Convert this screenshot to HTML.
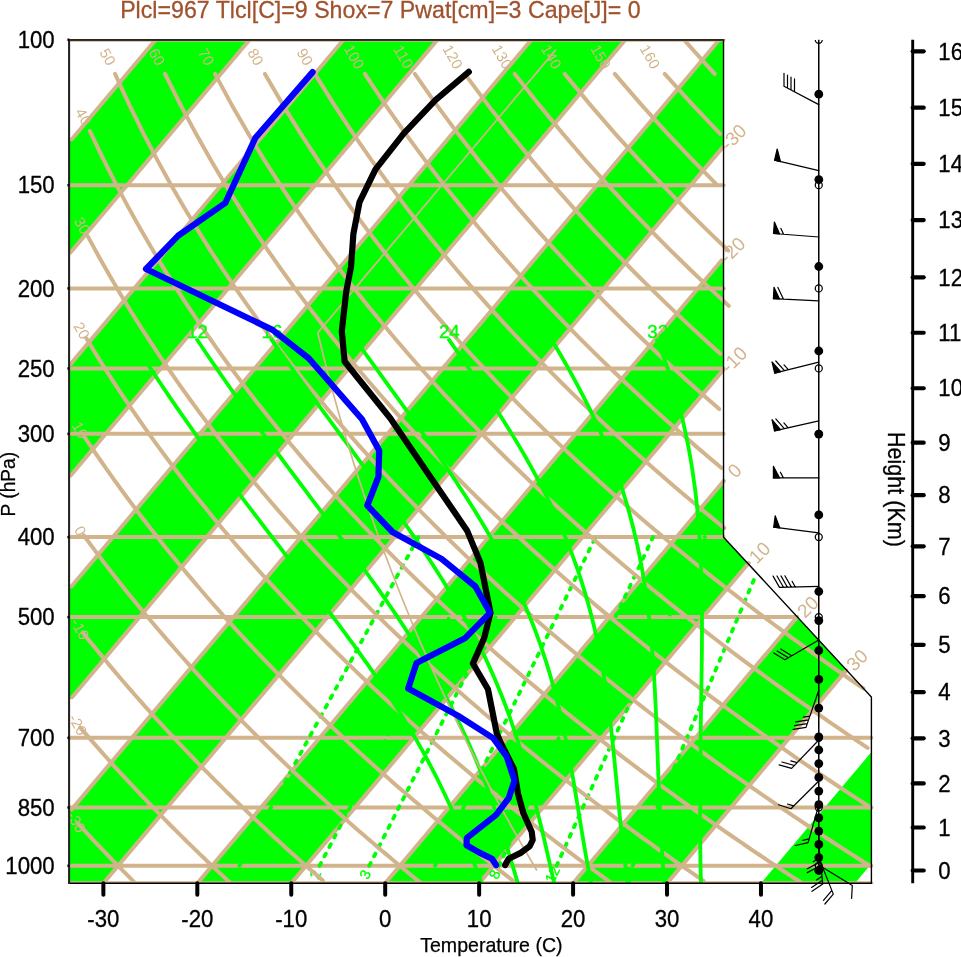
<!DOCTYPE html>
<html><head><meta charset="utf-8"><title>Skew-T</title><style>html,body{margin:0;padding:0;background:#fff}svg{display:block}</style></head><body>
<svg width="961" height="957" viewBox="0 0 961 957" font-family="&quot;Liberation Sans&quot;, Arial, Helvetica, sans-serif">
<rect width="961" height="957" fill="#fff"/>
<defs><clipPath id="fr"><polygon points="69.40,883.30 69.40,39.70 723.53,39.70 723.53,537.12 871.40,697.04 871.40,883.30"/></clipPath><clipPath id="bg"><rect x="68.2" y="38.9" width="880" height="845"/></clipPath></defs>
<g clip-path="url(#fr)" fill="#00ff00">
<polygon points="-618.38,959.52 249.39,-71.65 343.33,-71.65 -524.44,959.52"/>
<polygon points="-430.49,959.52 437.28,-71.65 531.22,-71.65 -336.55,959.52"/>
<polygon points="-242.61,959.52 625.16,-71.65 719.11,-71.65 -148.66,959.52"/>
<polygon points="-54.72,959.52 813.05,-71.65 906.99,-71.65 39.22,959.52"/>
<polygon points="133.17,959.52 1000.94,-71.65 1094.88,-71.65 227.11,959.52"/>
<polygon points="321.05,959.52 1188.82,-71.65 1282.77,-71.65 415.00,959.52"/>
<polygon points="508.94,959.52 1376.71,-71.65 1470.66,-71.65 602.88,959.52"/>
<polygon points="696.83,959.52 1564.60,-71.65 1658.54,-71.65 790.77,959.52"/>
</g>
<g clip-path="url(#bg)">
<g stroke="#d2b48c" stroke-width="4.00" fill="none" stroke-linecap="round">
<line x1="71.85" y1="139.32" x2="155.67" y2="39.72"/>
<line x1="70.48" y1="252.58" x2="249.61" y2="39.72"/>
<line x1="70.56" y1="364.12" x2="343.56" y2="39.72"/>
<line x1="70.70" y1="475.58" x2="437.50" y2="39.72"/>
<line x1="71.37" y1="586.43" x2="531.44" y2="39.72"/>
<line x1="72.11" y1="697.18" x2="625.39" y2="39.72"/>
<line x1="71.45" y1="809.59" x2="719.33" y2="39.72"/>
<line x1="103.37" y1="883.30" x2="722.67" y2="147.38"/>
<line x1="197.31" y1="883.30" x2="721.49" y2="260.42"/>
<line x1="291.25" y1="883.30" x2="723.32" y2="369.88"/>
<line x1="385.20" y1="883.30" x2="723.86" y2="480.87"/>
<line x1="479.14" y1="883.30" x2="748.68" y2="563.01"/>
<line x1="573.08" y1="883.30" x2="797.08" y2="617.12"/>
<line x1="667.03" y1="883.30" x2="846.22" y2="670.37"/>
</g>
<g fill="#d2b48c" font-size="19" text-anchor="middle">
<text transform="translate(733.54,137.07) rotate(-45)" y="6.5">-30</text>
<text transform="translate(732.36,250.11) rotate(-45)" y="6.5">-20</text>
<text transform="translate(734.19,359.57) rotate(-45)" y="6.5">-10</text>
<text transform="translate(734.73,470.55) rotate(-45)" y="6.5">0</text>
<text transform="translate(759.55,552.70) rotate(-45)" y="6.5">10</text>
<text transform="translate(807.96,606.81) rotate(-45)" y="6.5">20</text>
<text transform="translate(857.09,660.06) rotate(-45)" y="6.5">30</text>
</g>
<g stroke="#d2b48c" stroke-width="4.00" fill="none" stroke-linecap="round">
<line x1="69.40" y1="883.30" x2="871.40" y2="883.30"/>
<line x1="69.40" y1="865.80" x2="871.40" y2="865.80"/>
<line x1="69.40" y1="807.49" x2="871.40" y2="807.49"/>
<line x1="69.40" y1="737.84" x2="871.40" y2="737.84"/>
<line x1="69.40" y1="617.12" x2="797.11" y2="617.12"/>
<line x1="69.40" y1="537.07" x2="723.53" y2="537.07"/>
<line x1="69.40" y1="433.86" x2="723.53" y2="433.86"/>
<line x1="69.40" y1="368.45" x2="723.53" y2="368.45"/>
<line x1="69.40" y1="288.39" x2="723.53" y2="288.39"/>
<line x1="69.40" y1="185.18" x2="723.53" y2="185.18"/>
<line x1="69.40" y1="39.72" x2="723.53" y2="39.72"/>
</g>
<g stroke="#00ff00" stroke-width="3.8" fill="none" stroke-dasharray="3.1,7.5" stroke-linecap="round">
<line x1="632.70" y1="865.80" x2="755.42" y2="576.12"/>
<line x1="556.57" y1="865.80" x2="704.77" y2="537.07"/>
<line x1="498.88" y1="865.80" x2="653.02" y2="537.07"/>
<line x1="435.04" y1="865.80" x2="595.59" y2="537.07"/>
<line x1="369.24" y1="865.80" x2="536.20" y2="537.07"/>
<line x1="319.53" y1="865.80" x2="491.20" y2="537.07"/>
<line x1="239.36" y1="865.80" x2="418.37" y2="537.07"/>
</g>
<g fill="#00ff00" stroke="#00ff00" stroke-width="0.3" font-size="14.5" text-anchor="middle">
<text transform="translate(629.00,874.80) rotate(-65)" y="4.5">20</text>
<text transform="translate(552.87,874.80) rotate(-65)" y="4.5">12</text>
<text transform="translate(495.18,874.80) rotate(-65)" y="4.5">8</text>
<text transform="translate(431.34,874.80) rotate(-65)" y="4.5">5</text>
<text transform="translate(365.54,874.80) rotate(-65)" y="4.5">3</text>
<text transform="translate(315.83,874.80) rotate(-65)" y="4.5">2</text>
<text transform="translate(235.66,874.80) rotate(-65)" y="4.5">1</text>
</g>
<g stroke="#d2b48c" stroke-width="4.00" fill="none" stroke-linecap="round" stroke-linejoin="round">
<polyline points="78.40,823.99 82.10,828.00 85.78,831.96 89.44,835.88 93.08,839.76 96.71,843.60 100.32,847.39 103.91,851.15 107.48,854.87 111.03,858.55 114.57,862.19 118.10,865.80 121.60,869.37 125.09,872.90 128.56,876.40 132.02,879.87 135.46,883.30"/>
<polyline points="80.11,727.44 84.62,732.67 89.09,737.84 93.54,742.92 97.96,747.94 102.35,752.89 106.72,757.77 111.06,762.59 115.37,767.34 119.66,772.03 123.92,776.66 128.16,781.23 132.38,785.74 136.57,790.20 140.73,794.60 144.88,798.95 149.00,803.24 153.10,807.49 157.17,811.69 161.23,815.83 165.26,819.93 169.27,823.99 173.26,828.00 177.22,831.96 181.17,835.88 185.10,839.76 189.01,843.60 192.89,847.39 196.76,851.15 200.61,854.87 204.44,858.55 208.25,862.19 212.04,865.80 215.81,869.37 219.57,872.90 223.31,876.40 227.02,879.87 230.73,883.30"/>
<polyline points="82.82,632.57 88.26,639.38 93.66,646.06 99.02,652.62 104.34,659.06 109.61,665.39 114.85,671.60 120.05,677.72 125.21,683.73 130.34,689.64 135.42,695.45 140.48,701.17 145.49,706.81 150.47,712.35 155.42,717.81 160.34,723.19 165.22,728.49 170.07,733.71 174.89,738.86 179.67,743.93 184.43,748.94 189.15,753.87 193.85,758.74 198.51,763.54 203.15,768.28 207.76,772.96 212.34,777.58 216.89,782.14 221.42,786.64 225.91,791.08 230.39,795.47 234.83,799.81 239.25,804.10 243.65,808.33 248.02,812.52 252.37,816.66 256.69,820.75 260.99,824.79 265.26,828.79 269.52,832.75 273.75,836.66 277.95,840.53 282.14,844.36 286.30,848.15 290.44,851.90 294.56,855.61 298.66,859.28 302.74,862.91 306.79,866.51 310.83,870.08 314.85,873.60 318.84,877.10 322.82,880.56"/>
<polyline points="83.68,535.27 90.23,544.17 96.72,552.86 103.15,561.34 109.52,569.63 115.83,577.72 122.08,585.64 128.28,593.39 134.42,600.98 140.51,608.41 146.55,615.68 152.53,622.82 158.47,629.81 164.35,636.67 170.19,643.40 175.98,650.01 181.72,656.50 187.42,662.87 193.07,669.13 198.68,675.28 204.25,681.33 209.77,687.28 215.26,693.14 220.70,698.90 226.10,704.56 231.47,710.14 236.79,715.64 242.08,721.05 247.33,726.38 252.55,731.63 257.73,736.81 262.87,741.91 267.98,746.94 273.05,751.91 278.10,756.80 283.11,761.63 288.08,766.39 293.03,771.10 297.94,775.74 302.83,780.32 307.68,784.84 312.51,789.31 317.30,793.72 322.07,798.08 326.80,802.39 331.51,806.65 336.19,810.85 340.85,815.01 345.48,819.12 350.08,823.18 354.65,827.20 359.20,831.17 363.73,835.10 368.23,838.99 372.70,842.83 377.16,846.64 381.58,850.40 385.99,854.13 390.37,857.82 394.73,861.46 399.06,865.08 403.38,868.65 407.67,872.20 411.94,875.70 416.18,879.18 420.41,882.62"/>
<polyline points="84.06,436.24 91.90,447.93 99.66,459.25 107.32,470.22 114.90,480.87 122.40,491.21 129.82,501.26 137.15,511.03 144.41,520.55 151.59,529.82 158.70,538.86 165.74,547.67 172.70,556.28 179.60,564.68 186.43,572.89 193.19,580.91 199.90,588.76 206.53,596.45 213.11,603.97 219.63,611.34 226.08,618.55 232.49,625.63 238.83,632.57 245.12,639.38 251.36,646.06 257.54,652.62 263.68,659.06 269.76,665.39 275.79,671.60 281.78,677.72 287.72,683.73 293.61,689.64 299.45,695.45 305.26,701.17 311.01,706.81 316.73,712.35 322.40,717.81 328.03,723.19 333.63,728.49 339.18,733.71 344.69,738.86 350.16,743.93 355.60,748.94 361.00,753.87 366.36,758.74 371.69,763.54 376.98,768.28 382.24,772.96 387.46,777.58 392.66,782.14 397.81,786.64 402.94,791.08 408.03,795.47 413.09,799.81 418.12,804.10 423.13,808.33 428.10,812.52 433.04,816.66 437.95,820.75 442.83,824.79 447.69,828.79 452.52,832.75 457.32,836.66 462.09,840.53 466.84,844.36 471.56,848.15 476.26,851.90 480.93,855.61 485.57,859.28 490.19,862.91 494.79,866.51 499.36,870.08 503.91,873.60 508.43,877.10 512.93,880.56"/>
<polyline points="86.46,338.53 95.76,353.80 104.94,368.45 113.99,382.52 122.93,396.06 131.75,409.11 140.46,421.70 149.05,433.86 157.54,445.62 165.93,457.01 174.21,468.05 182.40,478.76 190.48,489.16 198.48,499.27 206.38,509.10 214.20,518.66 221.93,527.98 229.57,537.07 237.13,545.93 244.62,554.57 252.02,563.01 259.35,571.26 266.61,579.32 273.79,587.21 280.91,594.92 287.95,602.48 294.93,609.87 301.85,617.12 308.70,624.23 315.49,631.19 322.21,638.03 328.88,644.73 335.49,651.32 342.04,657.78 348.54,664.13 354.98,670.37 361.37,676.50 367.71,682.53 373.99,688.46 380.23,694.30 386.41,700.04 392.55,705.69 398.64,711.25 404.69,716.73 410.69,722.12 416.64,727.44 422.55,732.67 428.42,737.84 434.25,742.92 440.04,747.94 445.78,752.89 451.49,757.77 457.15,762.59 462.78,767.34 468.37,772.03 473.92,776.66 479.44,781.23 484.92,785.74 490.36,790.20 495.78,794.60 501.15,798.95 506.49,803.24 511.80,807.49 517.08,811.69 522.33,815.83 527.54,819.93 532.72,823.99 537.88,828.00 543.00,831.96 548.09,835.88 553.15,839.76 558.19,843.60 563.19,847.39 568.17,851.15 573.12,854.87 578.05,858.55 582.94,862.19 587.81,865.80 592.66,869.37 597.48,872.90 602.27,876.40 607.04,879.87 611.78,883.30"/>
<polyline points="87.82,236.36 98.79,256.52 109.60,275.61 120.24,293.73 130.71,310.99 141.03,327.45 151.20,343.18 161.21,358.26 171.08,372.73 180.80,386.63 190.39,400.02 199.85,412.93 209.18,425.39 218.38,437.43 227.46,449.08 236.42,460.36 245.27,471.30 254.01,481.91 262.64,492.22 271.17,502.24 279.59,511.99 287.92,521.49 296.15,530.73 304.29,539.75 312.34,548.54 320.30,557.12 328.17,565.51 335.97,573.70 343.68,581.71 351.31,589.54 358.87,597.21 366.35,604.71 373.75,612.06 381.09,619.27 388.36,626.33 395.56,633.26 402.69,640.05 409.76,646.72 416.76,653.27 423.71,659.70 430.59,666.01 437.41,672.22 444.18,678.32 450.89,684.32 457.54,690.22 464.14,696.03 470.69,701.74 477.18,707.36 483.62,712.90 490.02,718.35 496.36,723.72 502.66,729.01 508.91,734.23 515.11,739.37 521.27,744.44 527.38,749.43 533.45,754.36 539.48,759.22 545.47,764.02 551.41,768.75 557.31,773.42 563.18,778.04 569.00,782.59 574.79,787.08 580.53,791.52 586.24,795.91 591.92,800.24 597.56,804.52 603.16,808.75 608.73,812.94 614.26,817.07 619.76,821.16 625.22,825.20 630.66,829.19 636.06,833.14 641.43,837.05 646.77,840.92 652.07,844.74 657.35,848.53 662.60,852.27 667.81,855.98 673.00,859.64 678.16,863.28 683.29,866.87 688.40,870.43 693.47,873.95 698.52,877.44 703.55,880.90"/>
<polyline points="89.91,131.07 102.72,157.86 115.32,182.78 127.71,206.09 139.89,227.97 151.86,248.59 163.63,268.10 175.20,286.59 186.58,304.18 197.77,320.95 208.78,336.97 219.61,352.30 230.27,367.01 240.77,381.14 251.11,394.73 261.29,407.82 271.33,420.46 281.23,432.66 290.98,444.46 300.61,455.89 310.10,466.96 319.47,477.70 328.72,488.13 337.85,498.27 346.87,508.13 355.78,517.72 364.58,527.06 373.28,536.17 381.88,545.05 390.38,553.72 398.78,562.18 407.10,570.44 415.32,578.52 423.45,586.43 431.51,594.16 439.47,601.73 447.36,609.14 455.17,616.40 462.90,623.52 470.56,630.50 478.15,637.35 485.66,644.07 493.11,650.66 500.48,657.14 507.79,663.50 515.04,669.75 522.22,675.89 529.35,681.93 536.41,687.87 543.41,693.72 550.35,699.47 557.24,705.12 564.07,710.70 570.85,716.18 577.57,721.58 584.24,726.91 590.86,732.15 597.44,737.32 603.96,742.42 610.43,747.44 616.86,752.40 623.23,757.29 629.57,762.11 635.86,766.87 642.10,771.56 648.30,776.20 654.46,780.77 660.58,785.29 666.66,789.75 672.69,794.16 678.69,798.52 684.65,802.82 690.57,807.07 696.45,811.27 702.30,815.42 708.10,819.53 713.88,823.58 719.61,827.60 725.32,831.57 730.99,835.49 736.62,839.37 742.22,843.22 747.79,847.02 753.33,850.78 758.83,854.50 764.31,858.18 769.75,861.83 775.16,865.44 780.54,869.01 785.90,872.55 791.22,876.05 796.52,879.52 801.78,882.96"/>
<polyline points="115.03,73.91 129.45,105.13 143.61,133.84 157.52,160.43 171.17,185.18 184.56,208.34 197.69,230.09 210.58,250.59 223.22,269.99 235.64,288.39 247.83,305.90 259.80,322.59 271.57,338.53 283.14,353.80 294.52,368.45 305.72,382.52 316.73,396.06 327.58,409.11 338.26,421.70 348.79,433.86 359.16,445.62 369.38,457.01 379.46,468.05 389.41,478.76 399.22,489.16 408.90,499.27 418.46,509.10 427.90,518.66 437.22,527.98 446.43,537.07 455.53,545.93 464.52,554.57 473.41,563.01 482.21,571.26 490.90,579.32 499.50,587.21 508.00,594.92 516.42,602.48 524.75,609.87 533.00,617.12 541.16,624.23 549.24,631.19 557.25,638.03 565.17,644.73 573.03,651.32 580.81,657.78 588.51,664.13 596.15,670.37 603.72,676.50 611.23,682.53 618.67,688.46 626.04,694.30 633.36,700.04 640.61,705.69 647.81,711.25 654.94,716.73 662.02,722.12 669.04,727.44 676.01,732.67 682.92,737.84 689.78,742.92 696.59,747.94 703.35,752.89 710.06,757.77 716.72,762.59 723.34,767.34 729.90,772.03 736.42,776.66 742.90,781.23 749.33,785.74 755.71,790.20 762.06,794.60 768.36,798.95 774.62,803.24 780.84,807.49 787.01,811.69 793.15,815.83 799.25,819.93 805.32,823.99 811.34,828.00 817.33,831.96 823.28,835.88 829.20,839.76 835.08,843.60 840.92,847.39 846.73,851.15 852.51,854.87 858.25,858.55 863.97,862.19 869.64,865.80"/>
<polyline points="165.00,73.91 180.67,105.13 196.03,133.84 211.06,160.43 225.77,185.18 240.18,208.34 254.28,230.09 268.10,250.59 281.65,269.99 294.92,288.39 307.95,305.90 320.73,322.59 333.28,338.53 345.60,353.80 357.72,368.45 369.62,382.52 381.33,396.06 392.86,409.11 404.20,421.70 415.36,433.86 426.36,445.62 437.20,457.01 447.88,468.05 458.41,478.76 468.80,489.16 479.04,499.27 489.15,509.10 499.13,518.66 508.99,527.98 518.72,537.07 528.33,545.93 537.83,554.57 547.21,563.01 556.49,571.26 565.66,579.32 574.73,587.21 583.70,594.92 592.58,602.48 601.36,609.87 610.05,617.12 618.65,624.23 627.16,631.19 635.59,638.03 643.94,644.73 652.21,651.32 660.39,657.78 668.51,664.13 676.54,670.37 684.51,676.50 692.40,682.53 700.23,688.46 707.98,694.30 715.67,700.04 723.30,705.69 730.86,711.25 738.36,716.73 745.80,722.12 753.17,727.44 760.49,732.67 767.76,737.84 774.96,742.92 782.11,747.94 789.21,752.89 796.25,757.77 803.25,762.59 810.19,767.34 817.08,772.03 823.92,776.66 830.71,781.23 837.46,785.74 844.16,790.20 850.82,794.60 857.43,798.95 863.99,803.24 870.51,807.49"/>
<polyline points="214.97,73.91 231.90,105.13 248.44,133.84 264.60,160.43 280.38,185.18 295.80,208.34 310.88,230.09 325.63,250.59 340.07,269.99 354.21,288.39 368.07,305.90 381.65,322.59 394.98,338.53 408.06,353.80 420.91,368.45 433.53,382.52 445.93,396.06 458.13,409.11 470.13,421.70 481.94,433.86 493.57,445.62 505.02,457.01 516.30,468.05 527.41,478.76 538.37,489.16 549.18,499.27 559.84,509.10 570.37,518.66 580.75,527.98 591.00,537.07 601.13,545.93 611.13,554.57 621.01,563.01 630.77,571.26 640.42,579.32 649.97,587.21 659.40,594.92 668.73,602.48 677.96,609.87 687.10,617.12 696.14,624.23 705.08,631.19 713.94,638.03 722.70,644.73 731.38,651.32 739.98,657.78 748.50,664.13 756.94,670.37 765.29,676.50 773.58,682.53 781.79,688.46 789.92,694.30 797.99,700.04 805.98,705.69 813.91,711.25 821.78,716.73 829.57,722.12 837.31,727.44 844.98,732.67 852.59,737.84 860.14,742.92 867.63,747.94"/>
<polyline points="264.94,73.91 283.13,105.13 300.86,133.84 318.14,160.43 334.98,185.18 351.42,208.34 367.47,230.09 383.16,250.59 398.49,269.99 413.50,288.39 428.19,305.90 442.58,322.59 456.69,338.53 470.52,353.80 484.10,368.45 497.44,382.52 510.53,396.06 523.41,409.11 536.07,421.70 548.52,433.86 560.77,445.62 572.83,457.01 584.71,468.05 596.42,478.76 607.95,489.16 619.32,499.27 630.54,509.10 641.60,518.66 652.52,527.98 663.29,537.07 673.93,545.93 684.43,554.57 694.81,563.01 705.06,571.26 715.19,579.32 725.20,587.21 735.10,594.92 744.89,602.48 754.57,609.87 764.15,617.12 773.62,624.23 783.00,631.19 792.28,638.03 801.47,644.73 810.56,651.32 819.57,657.78 828.49,664.13 837.33,670.37 846.08,676.50 854.75,682.53 863.35,688.46"/>
<polyline points="314.91,73.91 334.36,105.13 353.27,133.84 371.67,160.43 389.59,185.18 407.04,208.34 424.07,230.09 440.69,250.59 456.92,269.99 472.79,288.39 488.31,305.90 503.51,322.59 518.39,338.53 532.99,353.80 547.30,368.45 561.34,382.52 575.14,396.06 588.68,409.11 602.00,421.70 615.09,433.86 627.97,445.62 640.65,457.01 653.13,468.05 665.42,478.76 677.53,489.16 689.46,499.27 701.23,509.10 712.83,518.66 724.28,527.98"/>
<polyline points="364.88,73.91 385.59,105.13 405.69,133.84 425.21,160.43 444.19,185.18 462.67,208.34 480.66,230.09 498.21,250.59 515.34,269.99 532.07,288.39 548.43,305.90 564.43,322.59 580.10,338.53 595.45,353.80 610.49,368.45 625.25,382.52 639.74,396.06 653.96,409.11 667.93,421.70 681.67,433.86 695.18,445.62 708.47,457.01 721.55,468.05"/>
<polyline points="414.84,73.91 436.82,105.13 458.10,133.84 478.75,160.43 498.80,185.18 518.29,208.34 537.26,230.09 555.74,250.59 573.77,269.99 591.36,288.39 608.55,305.90 625.36,322.59 641.80,338.53 657.91,353.80 673.69,368.45 689.16,382.52 704.34,396.06 719.24,409.11"/>
<polyline points="464.81,73.91 488.05,105.13 510.52,133.84 532.29,160.43 553.40,185.18 573.91,208.34 593.85,230.09 613.27,250.59 632.19,269.99 650.65,288.39 668.67,305.90 686.28,322.59 703.51,338.53 720.37,353.80"/>
<polyline points="514.78,73.91 539.27,105.13 562.93,133.84 585.82,160.43 608.01,185.18 629.53,208.34 650.45,230.09 670.80,250.59 690.61,269.99 709.93,288.39 728.79,305.90"/>
<polyline points="564.75,73.91 590.50,105.13 615.35,133.84 639.36,160.43 662.61,185.18 685.15,208.34 707.04,230.09 728.32,250.59"/>
<polyline points="614.72,73.91 641.73,105.13 667.76,133.84 692.90,160.43 717.22,185.18"/>
<polyline points="664.69,73.91 692.96,105.13 720.18,133.84"/>
<polyline points="683.89,39.72 714.66,73.91"/>
</g>
<g fill="#d2b48c" font-size="15" text-anchor="middle">
<text transform="translate(76.54,821.96) rotate(60)" y="5.2">-30</text>
<text transform="translate(77.85,724.78) rotate(60)" y="5.2">-20</text>
<text transform="translate(80.08,629.10) rotate(60)" y="5.2">-10</text>
<text transform="translate(80.38,530.70) rotate(60)" y="5.2">0</text>
<text transform="translate(80.09,430.20) rotate(60)" y="5.2">10</text>
<text transform="translate(81.74,330.56) rotate(60)" y="5.2">20</text>
<text transform="translate(82.26,225.68) rotate(60)" y="5.2">30</text>
<text transform="translate(83.41,116.60) rotate(60)" y="5.2">40</text>
<text transform="translate(107.70,56.82) rotate(60)" y="5.2">50</text>
<text transform="translate(157.00,56.82) rotate(60)" y="5.2">60</text>
<text transform="translate(206.30,56.82) rotate(60)" y="5.2">70</text>
<text transform="translate(255.60,56.82) rotate(60)" y="5.2">80</text>
<text transform="translate(304.89,56.82) rotate(60)" y="5.2">90</text>
<text transform="translate(354.19,56.82) rotate(60)" y="5.2">100</text>
<text transform="translate(403.49,56.82) rotate(60)" y="5.2">110</text>
<text transform="translate(452.79,56.82) rotate(60)" y="5.2">120</text>
<text transform="translate(502.09,56.82) rotate(60)" y="5.2">130</text>
<text transform="translate(551.38,56.82) rotate(60)" y="5.2">140</text>
<text transform="translate(600.68,56.82) rotate(60)" y="5.2">150</text>
<text transform="translate(649.98,56.82) rotate(60)" y="5.2">160</text>
</g>
<g stroke="#00ff00" stroke-width="3.8" fill="none" stroke-linejoin="round">
<polyline points="701.00,883.30 700.89,879.87 700.79,876.40 700.70,872.90 700.62,869.37 700.55,865.80 700.48,862.19 700.42,858.55 700.36,854.87 700.31,851.15 700.27,847.39 700.22,843.60 700.22,839.76 700.19,835.88 700.18,831.96 700.17,828.00 700.16,823.99 700.16,819.93 700.17,815.83 700.18,811.69 700.19,807.49 700.21,803.24 700.23,798.95 700.26,794.60 700.29,790.20 700.32,785.74 700.35,781.23 700.39,776.66 700.42,772.03 700.46,767.34 700.50,762.59 700.53,757.77 700.56,752.89 700.63,747.94 700.66,742.92 700.69,737.84 700.72,732.67 700.77,727.44 700.85,722.12 700.92,716.73 701.00,711.25 701.09,705.69 701.18,700.04 701.27,694.30 701.37,688.46 701.46,682.53 701.55,676.50 701.65,670.37 701.73,664.13 701.82,657.78 701.89,651.32 701.92,644.73 701.96,638.03 701.99,631.19 702.00,624.23 701.98,617.12 701.94,609.87 701.87,602.48 701.77,594.92 701.62,587.21 701.43,579.32 701.18,571.26 700.88,563.01 700.51,554.57 700.05,545.93 699.52,537.07 698.88,527.98 698.13,518.66 697.25,509.10 696.28,499.27 695.10,489.16 693.59,478.76 692.08,468.05 690.25,457.01 688.17,445.62 685.77,433.86 683.03,421.70 679.91,409.11 676.34,396.06 672.26,382.52 667.67,368.45 662.42,353.80 656.48,338.53"/>
<polyline points="664.22,883.30 663.95,879.87 663.70,876.40 663.45,872.90 663.20,869.37 662.97,865.80 662.74,862.19 662.51,858.55 662.29,854.87 662.07,851.15 661.85,847.39 661.62,843.60 661.45,839.76 661.24,835.88 661.04,831.96 660.84,828.00 660.65,823.99 660.45,819.93 660.26,815.83 660.06,811.69 659.86,807.49 659.66,803.24 659.46,798.95 659.26,794.60 659.04,790.20 658.83,785.74 658.61,781.23 658.42,776.66 658.23,772.03 658.04,767.34 657.84,762.59 657.70,757.77 657.52,752.89 657.34,747.94 657.15,742.92 656.96,737.84 656.76,732.67 656.55,727.44 656.34,722.12 656.11,716.73 655.88,711.25 655.63,705.69 655.36,700.04 655.07,694.30 654.76,688.46 654.43,682.53 654.08,676.50 653.69,670.37 653.27,664.13 652.81,657.78 652.32,651.32 651.77,644.73 651.18,638.03 650.47,631.19 649.76,624.23 648.97,617.12 648.11,609.87 647.16,602.48 646.13,594.92 645.00,587.21 643.75,579.32 642.45,571.26 640.94,563.01 639.29,554.57 637.46,545.93 635.43,537.07 633.27,527.98 630.87,518.66 628.24,509.10 625.36,499.27 622.20,489.16 618.74,478.76 614.95,468.05 610.79,457.01 606.24,445.62 601.23,433.86 595.75,421.70 589.77,409.11 583.23,396.06 576.11,382.52 568.35,368.45 559.93,353.80 550.80,338.53"/>
<polyline points="627.63,883.30 627.17,879.87 626.72,876.40 626.27,872.90 625.83,869.37 625.39,865.80 624.95,862.19 624.52,858.55 624.08,854.87 623.64,851.15 623.19,847.39 622.78,843.60 622.35,839.76 621.91,835.88 621.46,831.96 621.02,828.00 620.59,823.99 620.17,819.93 619.76,815.83 619.35,811.69 618.94,807.49 618.53,803.24 618.12,798.95 617.71,794.60 617.29,790.20 616.87,785.74 616.44,781.23 616.00,776.66 615.55,772.03 615.09,767.34 614.67,762.59 614.19,757.77 613.70,752.89 613.20,747.94 612.67,742.92 612.13,737.84 611.56,732.67 610.97,727.44 610.35,722.12 609.70,716.73 609.01,711.25 608.29,705.69 607.52,700.04 606.72,694.30 605.86,688.46 604.95,682.53 603.99,676.50 602.96,670.37 601.87,664.13 600.70,657.78 599.45,651.32 598.12,644.73 596.69,638.03 595.16,631.19 593.52,624.23 591.77,617.12 589.88,609.87 587.86,602.48 585.69,594.92 583.34,587.21 580.86,579.32 578.17,571.26 575.28,563.01 572.18,554.57 568.85,545.93 565.28,537.07 561.44,527.98 557.32,518.66 552.89,509.10 548.15,499.27 543.05,489.16 537.60,478.76 531.75,468.05 525.50,457.01 518.86,445.62 511.76,433.86 504.19,421.70 496.15,409.11 487.60,396.06 478.55,382.52 468.97,368.45 458.84,353.80 448.15,338.53"/>
<polyline points="591.02,883.30 590.39,879.87 589.76,876.40 589.12,872.90 588.47,869.37 587.81,865.80 587.15,862.19 586.48,858.55 585.82,854.87 585.16,851.15 584.50,847.39 583.84,843.60 583.17,839.76 582.55,835.88 581.90,831.96 581.24,828.00 580.58,823.99 579.91,819.93 579.24,815.83 578.57,811.69 577.88,807.49 577.19,803.24 576.48,798.95 575.76,794.60 575.03,790.20 574.28,785.74 573.51,781.23 572.72,776.66 571.91,772.03 571.08,767.34 570.22,762.59 569.32,757.77 568.45,752.89 567.50,747.94 566.52,742.92 565.50,737.84 564.43,732.67 563.32,727.44 562.16,722.12 560.94,716.73 559.67,711.25 558.34,705.69 556.94,700.04 555.46,694.30 553.91,688.46 552.28,682.53 550.56,676.50 548.74,670.37 546.83,664.13 544.80,657.78 542.63,651.32 540.39,644.73 538.02,638.03 535.47,631.19 532.78,624.23 529.94,617.12 526.93,609.87 523.74,602.48 520.37,594.92 516.79,587.21 513.01,579.32 509.00,571.26 504.76,563.01 500.28,554.57 495.53,545.93 490.52,537.07 485.23,527.98 479.64,518.66 473.75,509.10 467.54,499.27 461.01,489.16 454.15,478.76 446.99,468.05 439.45,457.01 431.54,445.62 423.27,433.86 414.62,421.70 405.60,409.11 396.18,396.06 386.37,382.52 376.16,368.45 365.54,353.80 354.51,338.53"/>
<polyline points="554.24,883.30 553.45,879.87 552.65,876.40 551.85,872.90 551.05,869.37 550.24,865.80 549.42,862.19 548.59,858.55 547.75,854.87 546.90,851.15 546.03,847.39 545.14,843.60 544.29,839.76 543.38,835.88 542.46,831.96 541.48,828.00 540.49,823.99 539.48,819.93 538.46,815.83 537.42,811.69 536.36,807.49 535.28,803.24 534.18,798.95 533.06,794.60 531.90,790.20 530.72,785.74 529.51,781.23 528.26,776.66 526.97,772.03 525.65,767.34 524.28,762.59 522.87,757.77 521.42,752.89 519.91,747.94 518.34,742.92 516.72,737.84 515.03,732.67 513.28,727.44 511.46,722.12 509.56,716.73 507.59,711.25 505.53,705.69 503.37,700.04 501.12,694.30 498.77,688.46 496.31,682.53 493.73,676.50 491.04,670.37 488.22,664.13 485.27,657.78 482.18,651.32 478.95,644.73 475.56,638.03 472.01,631.19 468.29,624.23 464.40,617.12 460.33,609.87 456.06,602.48 451.60,594.92 446.94,587.21 442.06,579.32 436.97,571.26 431.65,563.01 426.10,554.57 420.32,545.93 414.29,537.07 408.02,527.98 401.49,518.66 394.71,509.10 387.67,499.27 380.36,489.16 372.78,478.76 364.93,468.05 356.81,457.01 348.47,445.62 339.78,433.86 330.81,421.70 321.55,409.11 311.98,396.06 302.13,382.52 291.96,368.45 281.50,353.80 270.72,338.53"/>
<polyline points="517.86,883.30 516.84,879.87 515.81,876.40 514.77,872.90 513.72,869.37 512.66,865.80 511.58,862.19 510.49,858.55 509.37,854.87 508.24,851.15 507.07,847.39 505.93,843.60 504.74,839.76 503.53,835.88 502.29,831.96 501.02,828.00 499.72,823.99 498.39,819.93 497.03,815.83 495.63,811.69 494.19,807.49 492.71,803.24 491.19,798.95 489.63,794.60 488.01,790.20 486.33,785.74 484.57,781.23 482.76,776.66 480.91,772.03 479.00,767.34 477.03,762.59 475.01,757.77 472.92,752.89 470.76,747.94 468.53,742.92 466.22,737.84 463.84,732.67 461.37,727.44 458.81,722.12 456.16,716.73 453.41,711.25 450.55,705.69 447.63,700.04 444.57,694.30 441.39,688.46 438.10,682.53 434.68,676.50 431.14,670.37 427.46,664.13 423.64,657.78 419.68,651.32 415.57,644.73 411.31,638.03 406.90,631.19 402.32,624.23 397.58,617.12 392.67,609.87 387.59,602.48 382.33,594.92 376.89,587.21 371.27,579.32 365.46,571.26 359.47,563.01 353.28,554.57 346.90,545.93 340.32,537.07 333.55,527.98 326.57,518.66 319.39,509.10 312.01,499.27 304.41,489.16 296.61,478.76 288.60,468.05 280.37,457.01 271.92,445.62 263.25,433.86 254.37,421.70 245.26,409.11 235.92,396.06 226.36,382.52 216.57,368.45 206.55,353.80 196.30,338.53"/>
<polyline points="481.70,883.30 480.41,879.87 479.11,876.40 477.79,872.90 476.44,869.37 475.08,865.80 473.69,862.19 472.28,858.55 470.83,854.87 469.36,851.15 467.84,847.39 466.34,843.60 464.78,839.76 463.19,835.88 461.55,831.96 459.89,828.00 458.18,823.99 456.43,819.93 454.63,815.83 452.79,811.69 450.91,807.49 448.97,803.24 446.98,798.95 444.94,794.60 442.84,790.20 440.68,785.74 438.45,781.23 436.16,776.66 433.80,772.03 431.38,767.34 428.87,762.59 426.29,757.77 423.63,752.89 420.88,747.94 418.05,742.92 415.12,737.84 412.10,732.67 408.99,727.44 405.77,722.12 402.48,716.73 399.06,711.25 395.50,705.69 391.83,700.04 388.05,694.30 384.16,688.46 380.15,682.53 376.03,676.50 371.78,670.37 367.41,664.13 362.91,657.78 358.29,651.32 353.53,644.73 348.64,638.03 343.61,631.19 338.45,624.23 333.14,617.12 327.70,609.87 322.11,602.48 316.38,594.92 310.50,587.21 304.47,579.32 298.29,571.26 291.97,563.01 285.49,554.57 278.85,545.93 272.06,537.07 265.12,527.98 258.02,518.66 250.75,509.10 243.33,499.27 235.74,489.16 227.99,478.76 220.07,468.05 211.98,457.01 203.73,445.62 195.30,433.86 186.70,421.70 177.93,409.11 168.99,396.06 159.87,382.52 150.58,368.45 141.11,353.80 131.47,338.53"/>
</g>
<g fill="#00ff00" stroke="#00ff00" stroke-width="0.35" font-size="18.7" text-anchor="middle">
<text x="657.68" y="337.53">32</text>
<text x="552.00" y="337.53">28</text>
<text x="449.35" y="337.53">24</text>
<text x="355.71" y="337.53">20</text>
<text x="271.92" y="337.53">16</text>
<text x="197.50" y="337.53">12</text>
<text x="132.67" y="337.53">8</text>
</g>
<polyline points="536.87,870.52 524.34,849.13 512.01,827.50 499.89,805.61 488.00,783.47 476.32,761.07 464.87,738.39 453.65,715.44 442.67,692.21 431.93,668.68 421.45,644.86 411.22,620.74 401.25,596.30 391.56,571.54 382.14,546.46 373.00,521.03 364.16,495.26 355.62,469.13 347.39,442.63 339.47,415.75 331.88,388.49 324.63,360.82 317.73,332.75 341.53,304.46 365.34,276.17 389.14,247.89 412.94,219.60 436.75,191.32 460.55,163.03 484.36,134.74 508.16,106.46 531.96,78.17 555.77,49.89" fill="none" stroke="#d2b48c" stroke-width="1.7"/>
</g>
<polygon points="69.40,883.30 69.40,39.70 723.53,39.70 723.53,537.12 871.40,697.04 871.40,883.30" fill="none" stroke="#000" stroke-width="1.4"/>
<path d="M69 884V39.85H724" fill="none" stroke="#262626" stroke-width="1.9"/>
<text transform="translate(54.70,874.00) scale(0.950,1)" font-size="23.40" text-anchor="end" stroke="#000" stroke-width="0.3">1000</text>
<text transform="translate(54.70,815.69) scale(0.950,1)" font-size="23.40" text-anchor="end" stroke="#000" stroke-width="0.3">850</text>
<text transform="translate(54.70,746.04) scale(0.950,1)" font-size="23.40" text-anchor="end" stroke="#000" stroke-width="0.3">700</text>
<text transform="translate(54.70,625.32) scale(0.950,1)" font-size="23.40" text-anchor="end" stroke="#000" stroke-width="0.3">500</text>
<text transform="translate(54.70,545.27) scale(0.950,1)" font-size="23.40" text-anchor="end" stroke="#000" stroke-width="0.3">400</text>
<text transform="translate(54.70,442.06) scale(0.950,1)" font-size="23.40" text-anchor="end" stroke="#000" stroke-width="0.3">300</text>
<text transform="translate(54.70,376.65) scale(0.950,1)" font-size="23.40" text-anchor="end" stroke="#000" stroke-width="0.3">250</text>
<text transform="translate(54.70,296.59) scale(0.950,1)" font-size="23.40" text-anchor="end" stroke="#000" stroke-width="0.3">200</text>
<text transform="translate(54.70,193.38) scale(0.950,1)" font-size="23.40" text-anchor="end" stroke="#000" stroke-width="0.3">150</text>
<text transform="translate(54.70,47.92) scale(0.950,1)" font-size="23.40" text-anchor="end" stroke="#000" stroke-width="0.3">100</text>
<rect x="67.40" y="864.60" width="2" height="2.4" fill="#000"/>
<rect x="67.40" y="806.29" width="2" height="2.4" fill="#000"/>
<rect x="67.40" y="736.64" width="2" height="2.4" fill="#000"/>
<rect x="67.40" y="615.92" width="2" height="2.4" fill="#000"/>
<rect x="67.40" y="535.87" width="2" height="2.4" fill="#000"/>
<rect x="67.40" y="432.66" width="2" height="2.4" fill="#000"/>
<rect x="67.40" y="367.25" width="2" height="2.4" fill="#000"/>
<rect x="67.40" y="287.19" width="2" height="2.4" fill="#000"/>
<rect x="67.40" y="183.98" width="2" height="2.4" fill="#000"/>
<rect x="67.40" y="38.52" width="2" height="2.4" fill="#000"/>
<text transform="translate(14.7,484.2) rotate(-90)" font-size="20" text-anchor="middle" textLength="64.5" lengthAdjust="spacingAndGlyphs" stroke="#000" stroke-width="0.25">P (hPa)</text>
<line x1="103.37" y1="883.30" x2="103.37" y2="894.80" stroke="#000" stroke-width="4" stroke-linecap="round"/>
<text transform="translate(103.37,926.60) scale(0.950,1)" font-size="23.40" text-anchor="middle" stroke="#000" stroke-width="0.3">-30</text>
<line x1="197.31" y1="883.30" x2="197.31" y2="894.80" stroke="#000" stroke-width="4" stroke-linecap="round"/>
<text transform="translate(197.31,926.60) scale(0.950,1)" font-size="23.40" text-anchor="middle" stroke="#000" stroke-width="0.3">-20</text>
<line x1="291.25" y1="883.30" x2="291.25" y2="894.80" stroke="#000" stroke-width="4" stroke-linecap="round"/>
<text transform="translate(291.25,926.60) scale(0.950,1)" font-size="23.40" text-anchor="middle" stroke="#000" stroke-width="0.3">-10</text>
<line x1="385.20" y1="883.30" x2="385.20" y2="894.80" stroke="#000" stroke-width="4" stroke-linecap="round"/>
<text transform="translate(385.20,926.60) scale(0.950,1)" font-size="23.40" text-anchor="middle" stroke="#000" stroke-width="0.3">0</text>
<line x1="479.14" y1="883.30" x2="479.14" y2="894.80" stroke="#000" stroke-width="4" stroke-linecap="round"/>
<text transform="translate(479.14,926.60) scale(0.950,1)" font-size="23.40" text-anchor="middle" stroke="#000" stroke-width="0.3">10</text>
<line x1="573.08" y1="883.30" x2="573.08" y2="894.80" stroke="#000" stroke-width="4" stroke-linecap="round"/>
<text transform="translate(573.08,926.60) scale(0.950,1)" font-size="23.40" text-anchor="middle" stroke="#000" stroke-width="0.3">20</text>
<line x1="667.03" y1="883.30" x2="667.03" y2="894.80" stroke="#000" stroke-width="4" stroke-linecap="round"/>
<text transform="translate(667.03,926.60) scale(0.950,1)" font-size="23.40" text-anchor="middle" stroke="#000" stroke-width="0.3">30</text>
<line x1="760.97" y1="883.30" x2="760.97" y2="894.80" stroke="#000" stroke-width="4" stroke-linecap="round"/>
<text transform="translate(760.97,926.60) scale(0.950,1)" font-size="23.40" text-anchor="middle" stroke="#000" stroke-width="0.3">40</text>
<text x="491.4" y="952.4" font-size="19.8" text-anchor="middle" textLength="142.4" lengthAdjust="spacingAndGlyphs" stroke="#000" stroke-width="0.25">Temperature (C)</text>
<text x="380.4" y="17.7" font-size="24.5" text-anchor="middle" textLength="520.5" lengthAdjust="spacingAndGlyphs" fill="#a0522d" stroke="#a0522d" stroke-width="0.3">Plcl=967 Tlcl[C]=9 Shox=7 Pwat[cm]=3 Cape[J]= 0</text>
<line x1="818.77" y1="870.43" x2="818.77" y2="39.72" stroke="#000" stroke-width="1.5"/>
<defs><clipPath id="wc"><rect x="700" y="40.00" width="200" height="900"/></clipPath></defs>
<circle clip-path="url(#wc)" cx="818.77" cy="870.43" r="3.5" fill="none" stroke="#000" stroke-width="1.25"/>
<circle clip-path="url(#wc)" cx="818.77" cy="865.80" r="3.5" fill="none" stroke="#000" stroke-width="1.25"/>
<circle clip-path="url(#wc)" cx="818.77" cy="807.49" r="3.5" fill="none" stroke="#000" stroke-width="1.25"/>
<circle clip-path="url(#wc)" cx="818.77" cy="737.84" r="3.5" fill="none" stroke="#000" stroke-width="1.25"/>
<circle clip-path="url(#wc)" cx="818.77" cy="617.12" r="3.5" fill="none" stroke="#000" stroke-width="1.25"/>
<circle clip-path="url(#wc)" cx="818.77" cy="537.07" r="3.5" fill="none" stroke="#000" stroke-width="1.25"/>
<circle clip-path="url(#wc)" cx="818.77" cy="433.86" r="3.5" fill="none" stroke="#000" stroke-width="1.25"/>
<circle clip-path="url(#wc)" cx="818.77" cy="368.45" r="3.5" fill="none" stroke="#000" stroke-width="1.25"/>
<circle clip-path="url(#wc)" cx="818.77" cy="288.39" r="3.5" fill="none" stroke="#000" stroke-width="1.25"/>
<circle clip-path="url(#wc)" cx="818.77" cy="185.18" r="3.5" fill="none" stroke="#000" stroke-width="1.25"/>
<circle clip-path="url(#wc)" cx="818.77" cy="39.72" r="3.5" fill="none" stroke="#000" stroke-width="1.25"/>
<g fill="none" stroke-linecap="round" stroke-linejoin="round" stroke-width="6.2">
<polyline stroke="#000" points="468.8,71.9 435.4,100.1 403.6,133.6 375.5,169.3 359.5,202.2 353.4,233.8 351.0,267.0 346.3,291.0 341.8,331.0 344.6,361.5 390.3,418.2 428.5,474.3 467.0,530.4 480.4,562.6 490.5,612.8 484.2,637.9 472.9,663.5 488.0,689.3 496.7,733.2 500.3,741.8 513.9,769.0 518.1,794.0 523.3,812.9 531.7,831.7 532.7,840.0 529.6,846.3 521.2,852.6 508.7,858.8 505.1,865.1"/>
<polyline stroke="#0000ff" points="312.6,72.1 255.4,137.8 225.3,203.0 178.2,235.6 146.0,269.0 272.6,329.9 308.7,358.2 362.0,419.3 379.2,450.6 378.4,477.0 367.3,505.5 392.5,532.0 441.6,558.9 475.4,586.5 490.0,612.8 465.4,637.9 416.5,663.0 408.2,688.5 457.9,715.6 493.0,738.0 506.6,756.4 514.5,780.5 508.7,798.2 496.1,814.9 466.9,837.9 466.5,845.2 479.4,852.6 492.0,858.8 496.1,865.1"/>
</g>
<g stroke="#000" stroke-width="1.2" fill="none" stroke-linecap="round" stroke-linejoin="round">
<path d="M818.8 104.6L784.0 86.3 M784.0 86.3L784.0 73.3 M787.5 88.1L787.5 75.1 M791.0 90.0L791.0 77.0 M794.5 91.8L794.5 78.8"/>
<path d="M818.8 170.6L774.6 160.2"/><polygon points="780.5,161.6 777.2,149.0 774.6,160.2" fill="#000"/>
<path d="M818.8 237.0L773.5 233.5 M783.6 234.3L780.9 228.4"/><polygon points="779.6,234.0 774.4,222.1 773.5,233.5" fill="#000"/>
<path d="M818.8 300.8L773.4 298.7 M783.5 299.2L777.9 287.4"/><polygon points="779.5,299.0 774.0,287.3 773.4,298.7" fill="#000"/>
<path d="M818.8 362.1L774.7 373.1 M784.5 370.6L775.8 361.0 M788.3 369.7L784.0 364.9"/><polygon points="780.7,371.6 772.0,361.9 774.7,373.1" fill="#000"/>
<path d="M818.8 420.9L774.5 430.9 M784.3 428.7L775.8 418.9 M788.2 427.8L783.9 422.9"/><polygon points="780.5,429.6 772.0,419.7 774.5,430.9" fill="#000"/>
<path d="M818.8 477.9L773.4 477.9 M783.4 477.9L780.4 472.2"/><polygon points="779.5,477.9 773.4,466.4 773.4,477.9" fill="#000"/>
<path d="M818.8 532.8L773.7 527.2"/><polygon points="779.8,528.0 775.2,515.8 773.7,527.2" fill="#000"/>
<path d="M818.8 586.3L779.5 587.4 M779.5 587.4L773.1 576.1 M783.5 587.3L777.0 576.0 M787.4 587.2L781.0 575.9 M791.4 587.1L784.9 575.8 M795.3 587.0L792.1 581.3"/>
<path d="M818.8 639.9L784.9 659.8 M784.9 659.8L773.8 653.0 M788.3 657.8L777.2 651.0 M791.7 655.8L780.7 649.0"/>
<path d="M818.8 690.2L806.0 727.4 M806.0 727.4L793.2 729.4 M807.3 723.6L794.5 725.7 M808.6 719.9L795.7 721.9 M809.9 716.2L803.4 717.2"/>
<path d="M818.8 740.0L791.6 768.4 M791.6 768.4L779.1 764.9 M794.4 765.5L781.9 762.0 M797.1 762.7L790.8 760.9"/>
<path d="M818.8 781.0L790.9 808.7 M790.9 808.7L778.5 804.8 M793.7 805.9L787.5 804.0"/>
<path d="M818.8 804.9L808.1 842.7 M808.1 842.7L795.4 845.5 M809.2 838.9L802.8 840.3"/>
<path d="M818.8 827.2L818.8 866.5 M818.8 866.5L807.3 872.6 M818.8 862.6L807.3 868.7 M818.8 858.6L813.1 861.7"/>
<path d="M818.8 845.0L822.8 884.1 M822.8 884.1L812.0 891.3 M822.4 880.2L811.6 887.4 M822.0 876.2L816.6 879.9"/>
<path d="M818.8 857.6L833.3 894.1 M833.3 894.1L824.9 904.0 M831.9 890.4L823.5 900.4"/>
<path d="M818.8 865.0L852.3 885.5 M852.3 885.5L851.6 898.4"/>
</g>
<g fill="#000">
<circle cx="818.8" cy="94.2" r="4.4"/>
<circle cx="818.8" cy="179.6" r="4.4"/>
<circle cx="818.8" cy="266.5" r="4.4"/>
<circle cx="818.8" cy="351.0" r="4.4"/>
<circle cx="818.8" cy="434.1" r="4.4"/>
<circle cx="818.8" cy="514.9" r="4.4"/>
<circle cx="818.8" cy="591.5" r="4.4"/>
<circle cx="818.8" cy="620.6" r="4.4"/>
<circle cx="818.8" cy="650.5" r="4.4"/>
<circle cx="818.8" cy="679.4" r="4.4"/>
<circle cx="818.8" cy="708.1" r="4.4"/>
<circle cx="818.8" cy="736.9" r="4.4"/>
<circle cx="818.8" cy="750.0" r="4.4"/>
<circle cx="818.8" cy="763.6" r="4.4"/>
<circle cx="818.8" cy="777.4" r="4.4"/>
<circle cx="818.8" cy="791.1" r="4.4"/>
<circle cx="818.8" cy="804.7" r="4.4"/>
<circle cx="818.8" cy="817.8" r="4.4"/>
<circle cx="818.8" cy="831.1" r="4.4"/>
<circle cx="818.8" cy="844.4" r="4.4"/>
<circle cx="818.8" cy="857.6" r="4.4"/>
<circle cx="818.8" cy="870.5" r="4.4"/>
</g>
<line x1="912.70" y1="39.70" x2="912.70" y2="883.30" stroke="#000" stroke-width="2.9"/>
<line x1="912.70" y1="870.52" x2="923.70" y2="870.52" stroke="#000" stroke-width="4.2" stroke-linecap="round"/>
<text transform="translate(938.30,878.72) scale(0.950,1)" font-size="23.40" text-anchor="start" stroke="#000" stroke-width="0.3">0</text>
<line x1="912.70" y1="827.48" x2="923.70" y2="827.48" stroke="#000" stroke-width="4.2" stroke-linecap="round"/>
<text transform="translate(938.30,835.68) scale(0.950,1)" font-size="23.40" text-anchor="start" stroke="#000" stroke-width="0.3">1</text>
<line x1="912.70" y1="783.45" x2="923.70" y2="783.45" stroke="#000" stroke-width="4.2" stroke-linecap="round"/>
<text transform="translate(938.30,791.65) scale(0.950,1)" font-size="23.40" text-anchor="start" stroke="#000" stroke-width="0.3">2</text>
<line x1="912.70" y1="738.34" x2="923.70" y2="738.34" stroke="#000" stroke-width="4.2" stroke-linecap="round"/>
<text transform="translate(938.30,746.54) scale(0.950,1)" font-size="23.40" text-anchor="start" stroke="#000" stroke-width="0.3">3</text>
<line x1="912.70" y1="692.14" x2="923.70" y2="692.14" stroke="#000" stroke-width="4.2" stroke-linecap="round"/>
<text transform="translate(938.30,700.34) scale(0.950,1)" font-size="23.40" text-anchor="start" stroke="#000" stroke-width="0.3">4</text>
<line x1="912.70" y1="644.78" x2="923.70" y2="644.78" stroke="#000" stroke-width="4.2" stroke-linecap="round"/>
<text transform="translate(938.30,652.98) scale(0.950,1)" font-size="23.40" text-anchor="start" stroke="#000" stroke-width="0.3">5</text>
<line x1="912.70" y1="596.18" x2="923.70" y2="596.18" stroke="#000" stroke-width="4.2" stroke-linecap="round"/>
<text transform="translate(938.30,604.38) scale(0.950,1)" font-size="23.40" text-anchor="start" stroke="#000" stroke-width="0.3">6</text>
<line x1="912.70" y1="546.33" x2="923.70" y2="546.33" stroke="#000" stroke-width="4.2" stroke-linecap="round"/>
<text transform="translate(938.30,554.53) scale(0.950,1)" font-size="23.40" text-anchor="start" stroke="#000" stroke-width="0.3">7</text>
<line x1="912.70" y1="495.19" x2="923.70" y2="495.19" stroke="#000" stroke-width="4.2" stroke-linecap="round"/>
<text transform="translate(938.30,503.39) scale(0.950,1)" font-size="23.40" text-anchor="start" stroke="#000" stroke-width="0.3">8</text>
<line x1="912.70" y1="442.65" x2="923.70" y2="442.65" stroke="#000" stroke-width="4.2" stroke-linecap="round"/>
<text transform="translate(938.30,450.85) scale(0.950,1)" font-size="23.40" text-anchor="start" stroke="#000" stroke-width="0.3">9</text>
<line x1="912.70" y1="388.25" x2="923.70" y2="388.25" stroke="#000" stroke-width="4.2" stroke-linecap="round"/>
<text transform="translate(938.30,396.45) scale(0.950,1)" font-size="23.40" text-anchor="start" stroke="#000" stroke-width="0.3">10</text>
<line x1="912.70" y1="332.73" x2="923.70" y2="332.73" stroke="#000" stroke-width="4.2" stroke-linecap="round"/>
<text transform="translate(938.30,340.93) scale(0.950,1)" font-size="23.40" text-anchor="start" stroke="#000" stroke-width="0.3">11</text>
<line x1="912.70" y1="277.34" x2="923.70" y2="277.34" stroke="#000" stroke-width="4.2" stroke-linecap="round"/>
<text transform="translate(938.30,285.54) scale(0.950,1)" font-size="23.40" text-anchor="start" stroke="#000" stroke-width="0.3">12</text>
<line x1="912.70" y1="220.09" x2="923.70" y2="220.09" stroke="#000" stroke-width="4.2" stroke-linecap="round"/>
<text transform="translate(938.30,228.29) scale(0.950,1)" font-size="23.40" text-anchor="start" stroke="#000" stroke-width="0.3">13</text>
<line x1="912.70" y1="163.87" x2="923.70" y2="163.87" stroke="#000" stroke-width="4.2" stroke-linecap="round"/>
<text transform="translate(938.30,172.07) scale(0.950,1)" font-size="23.40" text-anchor="start" stroke="#000" stroke-width="0.3">14</text>
<line x1="912.70" y1="107.69" x2="923.70" y2="107.69" stroke="#000" stroke-width="4.2" stroke-linecap="round"/>
<text transform="translate(938.30,115.89) scale(0.950,1)" font-size="23.40" text-anchor="start" stroke="#000" stroke-width="0.3">15</text>
<line x1="912.70" y1="51.37" x2="923.70" y2="51.37" stroke="#000" stroke-width="4.2" stroke-linecap="round"/>
<text transform="translate(938.30,59.57) scale(0.950,1)" font-size="23.40" text-anchor="start" stroke="#000" stroke-width="0.3">16</text>
<text transform="translate(887.8,489.5) rotate(90)" font-size="24" text-anchor="middle" textLength="115" lengthAdjust="spacingAndGlyphs" stroke="#000" stroke-width="0.3">Height (Km)</text>
</svg>
</body></html>
